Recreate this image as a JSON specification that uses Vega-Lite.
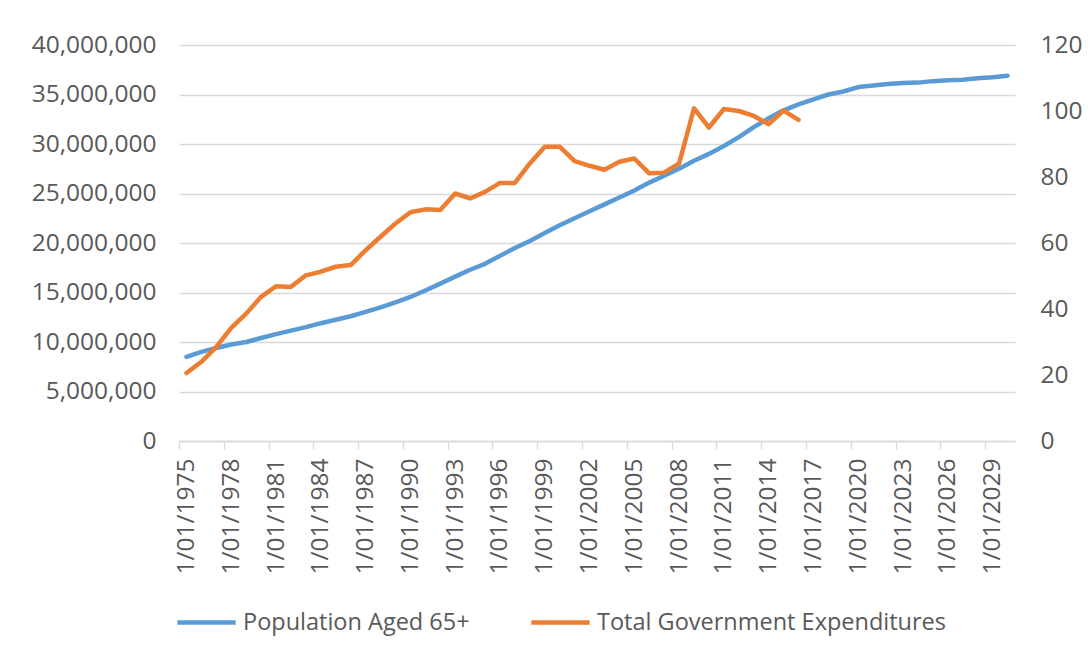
{
  "$schema": "https://vega.github.io/schema/vega-lite/v6.json",
  "width": 836,
  "height": 396,
  "autosize": {"type": "none"},
  "padding": {"left": 179, "top": 45, "right": 76, "bottom": 218},
  "background": "white",
  "config": {
    "view": {"stroke": null},
    "font": "Open Sans",
    "axis": {"labelFont": "Open Sans", "labelColor": "#595959", "labelFontSize": 24.5, "titleColor": "#595959"},
    "legend": {"labelFont": "Open Sans", "labelColor": "#595959", "labelFontSize": 23.5}
  },
  "data": {
    "values": [
      {"year": 1975, "series": "Population Aged 65+", "value": 8500000},
      {"year": 1976, "series": "Population Aged 65+", "value": 9000000},
      {"year": 1977, "series": "Population Aged 65+", "value": 9400000},
      {"year": 1978, "series": "Population Aged 65+", "value": 9750000},
      {"year": 1979, "series": "Population Aged 65+", "value": 10000000},
      {"year": 1980, "series": "Population Aged 65+", "value": 10400000},
      {"year": 1981, "series": "Population Aged 65+", "value": 10800000},
      {"year": 1982, "series": "Population Aged 65+", "value": 11150000},
      {"year": 1983, "series": "Population Aged 65+", "value": 11500000},
      {"year": 1984, "series": "Population Aged 65+", "value": 11900000},
      {"year": 1985, "series": "Population Aged 65+", "value": 12250000},
      {"year": 1986, "series": "Population Aged 65+", "value": 12600000},
      {"year": 1987, "series": "Population Aged 65+", "value": 13050000},
      {"year": 1988, "series": "Population Aged 65+", "value": 13500000},
      {"year": 1989, "series": "Population Aged 65+", "value": 14000000},
      {"year": 1990, "series": "Population Aged 65+", "value": 14550000},
      {"year": 1991, "series": "Population Aged 65+", "value": 15200000},
      {"year": 1992, "series": "Population Aged 65+", "value": 15900000},
      {"year": 1993, "series": "Population Aged 65+", "value": 16600000},
      {"year": 1994, "series": "Population Aged 65+", "value": 17300000},
      {"year": 1995, "series": "Population Aged 65+", "value": 17900000},
      {"year": 1996, "series": "Population Aged 65+", "value": 18700000},
      {"year": 1997, "series": "Population Aged 65+", "value": 19500000},
      {"year": 1998, "series": "Population Aged 65+", "value": 20200000},
      {"year": 1999, "series": "Population Aged 65+", "value": 21000000},
      {"year": 2000, "series": "Population Aged 65+", "value": 21800000},
      {"year": 2001, "series": "Population Aged 65+", "value": 22500000},
      {"year": 2002, "series": "Population Aged 65+", "value": 23200000},
      {"year": 2003, "series": "Population Aged 65+", "value": 23900000},
      {"year": 2004, "series": "Population Aged 65+", "value": 24600000},
      {"year": 2005, "series": "Population Aged 65+", "value": 25300000},
      {"year": 2006, "series": "Population Aged 65+", "value": 26100000},
      {"year": 2007, "series": "Population Aged 65+", "value": 26800000},
      {"year": 2008, "series": "Population Aged 65+", "value": 27500000},
      {"year": 2009, "series": "Population Aged 65+", "value": 28300000},
      {"year": 2010, "series": "Population Aged 65+", "value": 29000000},
      {"year": 2011, "series": "Population Aged 65+", "value": 29800000},
      {"year": 2012, "series": "Population Aged 65+", "value": 30700000},
      {"year": 2013, "series": "Population Aged 65+", "value": 31700000},
      {"year": 2014, "series": "Population Aged 65+", "value": 32600000},
      {"year": 2015, "series": "Population Aged 65+", "value": 33400000},
      {"year": 2016, "series": "Population Aged 65+", "value": 34000000},
      {"year": 2017, "series": "Population Aged 65+", "value": 34500000},
      {"year": 2018, "series": "Population Aged 65+", "value": 35000000},
      {"year": 2019, "series": "Population Aged 65+", "value": 35300000},
      {"year": 2020, "series": "Population Aged 65+", "value": 35750000},
      {"year": 2021, "series": "Population Aged 65+", "value": 35900000},
      {"year": 2022, "series": "Population Aged 65+", "value": 36050000},
      {"year": 2023, "series": "Population Aged 65+", "value": 36150000},
      {"year": 2024, "series": "Population Aged 65+", "value": 36200000},
      {"year": 2025, "series": "Population Aged 65+", "value": 36350000},
      {"year": 2026, "series": "Population Aged 65+", "value": 36450000},
      {"year": 2027, "series": "Population Aged 65+", "value": 36500000},
      {"year": 2028, "series": "Population Aged 65+", "value": 36650000},
      {"year": 2029, "series": "Population Aged 65+", "value": 36750000},
      {"year": 2030, "series": "Population Aged 65+", "value": 36900000},
      {"year": 1975, "series": "Total Government Expenditures", "value": 20.6},
      {"year": 1976, "series": "Total Government Expenditures", "value": 24.0},
      {"year": 1977, "series": "Total Government Expenditures", "value": 28.5},
      {"year": 1978, "series": "Total Government Expenditures", "value": 34.3},
      {"year": 1979, "series": "Total Government Expenditures", "value": 38.6},
      {"year": 1980, "series": "Total Government Expenditures", "value": 43.7},
      {"year": 1981, "series": "Total Government Expenditures", "value": 46.9},
      {"year": 1982, "series": "Total Government Expenditures", "value": 46.7},
      {"year": 1983, "series": "Total Government Expenditures", "value": 50.2},
      {"year": 1984, "series": "Total Government Expenditures", "value": 51.3},
      {"year": 1985, "series": "Total Government Expenditures", "value": 52.8},
      {"year": 1986, "series": "Total Government Expenditures", "value": 53.3},
      {"year": 1987, "series": "Total Government Expenditures", "value": 57.8},
      {"year": 1988, "series": "Total Government Expenditures", "value": 61.9},
      {"year": 1989, "series": "Total Government Expenditures", "value": 65.9},
      {"year": 1990, "series": "Total Government Expenditures", "value": 69.3},
      {"year": 1991, "series": "Total Government Expenditures", "value": 70.2},
      {"year": 1992, "series": "Total Government Expenditures", "value": 70.0},
      {"year": 1993, "series": "Total Government Expenditures", "value": 75.0},
      {"year": 1994, "series": "Total Government Expenditures", "value": 73.5},
      {"year": 1995, "series": "Total Government Expenditures", "value": 75.5},
      {"year": 1996, "series": "Total Government Expenditures", "value": 78.2},
      {"year": 1997, "series": "Total Government Expenditures", "value": 78.2},
      {"year": 1998, "series": "Total Government Expenditures", "value": 84.1},
      {"year": 1999, "series": "Total Government Expenditures", "value": 89.2},
      {"year": 2000, "series": "Total Government Expenditures", "value": 89.2},
      {"year": 2001, "series": "Total Government Expenditures", "value": 84.8},
      {"year": 2002, "series": "Total Government Expenditures", "value": 83.4},
      {"year": 2003, "series": "Total Government Expenditures", "value": 82.2},
      {"year": 2004, "series": "Total Government Expenditures", "value": 84.6},
      {"year": 2005, "series": "Total Government Expenditures", "value": 85.6},
      {"year": 2006, "series": "Total Government Expenditures", "value": 81.1},
      {"year": 2007, "series": "Total Government Expenditures", "value": 81.3},
      {"year": 2008, "series": "Total Government Expenditures", "value": 84.1},
      {"year": 2009, "series": "Total Government Expenditures", "value": 100.8},
      {"year": 2010, "series": "Total Government Expenditures", "value": 95.0},
      {"year": 2011, "series": "Total Government Expenditures", "value": 100.6},
      {"year": 2012, "series": "Total Government Expenditures", "value": 100.0},
      {"year": 2013, "series": "Total Government Expenditures", "value": 98.5},
      {"year": 2014, "series": "Total Government Expenditures", "value": 96.0},
      {"year": 2015, "series": "Total Government Expenditures", "value": 100.1},
      {"year": 2016, "series": "Total Government Expenditures", "value": 97.3}
    ]
  },
  "encoding": {
    "x": {
      "field": "year",
      "type": "quantitative",
      "scale": {"domain": [1974.5, 2030.5], "nice": false, "zero": false},
      "axis": {
        "title": null,
        "values": [1975, 1978, 1981, 1984, 1987, 1990, 1993, 1996, 1999, 2002, 2005, 2008, 2011, 2014, 2017, 2020, 2023, 2026, 2029],
        "labelExpr": "'1/01/' + datum.value",
        "labelAngle": 270,
        "labelPadding": 9,
        "labelFlush": false,
        "labelOverlap": false,
        "tickOffset": -7.4643,
        "labelOffset": 7.4643,
        "grid": false,
        "ticks": true,
        "tickSize": 8,
        "tickColor": "#D9D9D9",
        "tickWidth": 1.3,
        "domain": true,
        "domainColor": "#D9D9D9",
        "domainWidth": 1.3
      }
    },
    "color": {
      "field": "series",
      "type": "nominal",
      "scale": {"domain": ["Population Aged 65+", "Total Government Expenditures"], "range": ["#5B9BD5", "#ED7D31"]},
      "legend": {
        "title": null,
        "orient": "none",
        "direction": "horizontal",
        "legendX": -4,
        "legendY": 546,
        "symbolType": "stroke",
        "symbolStrokeWidth": 4.5,
        "symbolSize": 3400,
        "labelOffset": 5,
        "labelLimit": 600,
        "columnPadding": 52,
        "labelBaseline": "middle"
      }
    }
  },
  "layer": [
    {
      "transform": [{"filter": "datum.series === 'Population Aged 65+'"}],
      "mark": {"type": "line", "strokeWidth": 4.5, "strokeCap": "round", "strokeJoin": "round"},
      "encoding": {
        "y": {
          "field": "value",
          "type": "quantitative",
          "scale": {"domain": [0, 40000000], "nice": false},
          "axis": {
            "title": null,
            "orient": "left",
            "values": [0, 5000000, 10000000, 15000000, 20000000, 25000000, 30000000, 35000000, 40000000],
            "format": ",.0f",
            "labelPadding": 23,
            "ticks": false,
            "domain": false,
            "grid": true,
            "gridColor": "#D9D9D9",
            "gridWidth": 1.3
          }
        }
      }
    },
    {
      "transform": [{"filter": "datum.series === 'Total Government Expenditures'"}],
      "mark": {"type": "line", "strokeWidth": 4.5, "strokeCap": "round", "strokeJoin": "round"},
      "encoding": {
        "y": {
          "field": "value",
          "type": "quantitative",
          "scale": {"domain": [0, 120], "nice": false},
          "axis": {
            "title": null,
            "orient": "right",
            "values": [0, 20, 40, 60, 80, 100, 120],
            "labelPadding": 25,
            "ticks": false,
            "domain": false,
            "grid": false
          }
        }
      }
    }
  ],
  "resolve": {"scale": {"y": "independent"}}
}
